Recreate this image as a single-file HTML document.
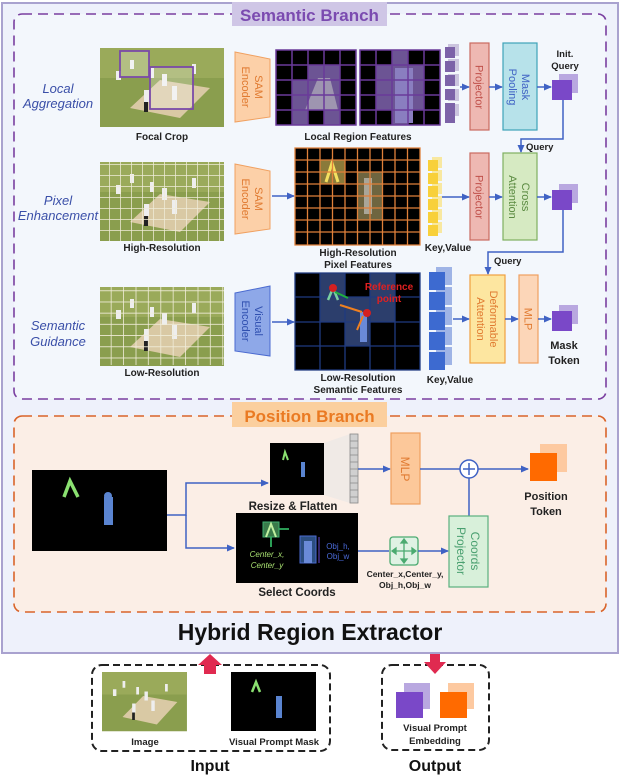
<!DOCTYPE html>
<html><head><meta charset="utf-8"><style>
html,body{margin:0;padding:0;background:#fff}
svg{display:block;font-family:"Liberation Sans",sans-serif}
</style></head><body>
<svg width="620" height="780" viewBox="0 0 620 780" xmlns="http://www.w3.org/2000/svg">
<defs>
<marker id="ab" markerWidth="8" markerHeight="8" refX="7" refY="4" orient="auto" markerUnits="userSpaceOnUse"><path d="M0,0.5 L8,4 L0,7.5 Z" fill="#3f62c4"/></marker>
<pattern id="g1" width="11" height="11" patternUnits="userSpaceOnUse"><path d="M11 0 V11 H0" fill="none" stroke="#f0ecd8" stroke-width="1.5"/></pattern>
<pattern id="g2" width="12.4" height="11.2" patternUnits="userSpaceOnUse"><path d="M12.4 0 V11.2 H0" fill="none" stroke="#f0ecd8" stroke-width="1.6"/></pattern>
<g id="field">
<rect width="124" height="79" fill="#8a9e4e"/>
<rect y="0" width="124" height="30" fill="#9aaa5a"/>
<polygon points="30,60 80,70 110,40 60,32" fill="#d9c9a4"/>
<g fill="#eeeeee"><rect x="16" y="23" width="5" height="9"/><rect x="30" y="12" width="4" height="9"/><rect x="50" y="20" width="4" height="10"/><rect x="62" y="26" width="5" height="12"/><rect x="72" y="38" width="5" height="14"/><rect x="92" y="16" width="4" height="10"/><rect x="44" y="42" width="5" height="12"/></g>
<rect x="44" y="54" width="4" height="10" fill="#222"/>
</g>
</defs>

<rect x="2" y="3" width="616" height="650" fill="#eef1fb" stroke="#a9a2cf" stroke-width="2"/>

<rect x="14" y="14" width="592" height="385" rx="8" fill="#f3f7fc" stroke="#7a3fa0" stroke-width="1.6" stroke-dasharray="10,6"/>
<rect x="232" y="2" width="155" height="24" fill="#cfc6e6"/>
<text x="309.5" y="21" text-anchor="middle" font-size="17" font-weight="bold" fill="#7b4bb0">Semantic Branch</text>

<g font-style="italic" font-size="13" fill="#3a4fa8" text-anchor="middle">
<text x="58" y="93">Local</text><text x="58" y="108">Aggregation</text>
<text x="58" y="205">Pixel</text><text x="58" y="220">Enhancement</text>
<text x="58" y="330">Semantic</text><text x="58" y="346">Guidance</text>
</g>

<!-- row1 -->
<use href="#field" x="100" y="48"/>
<rect x="120" y="51" width="29" height="26" fill="rgba(255,255,255,0.25)" stroke="#7a4aa8" stroke-width="1.8"/>
<rect x="150" y="67" width="43" height="42" fill="rgba(255,255,255,0.25)" stroke="#7a4aa8" stroke-width="1.8"/>
<text x="162" y="140" text-anchor="middle" font-size="10" font-weight="bold" fill="#222">Focal Crop</text>
<polygon points="235,52 270,59 270,117 235,122" fill="#fcd0a8" stroke="#f0a060"/>
<text transform="translate(255,87) rotate(90)" text-anchor="middle" font-size="11" fill="#e07a30">SAM</text>
<text transform="translate(242,87) rotate(90)" text-anchor="middle" font-size="11" fill="#e07a30">Encoder</text>
<g>
<rect x="276" y="50" width="80" height="75" fill="#000"/>
<g fill="#6c5494"><rect x="308" y="65" width="32" height="15"/><rect x="292" y="80" width="48" height="30"/><rect x="292" y="110" width="16" height="15"/><rect x="324" y="110" width="16" height="15"/></g>
<path d="M305,110 L318,78 L330,78 L338,110" fill="#9e95b0"/>
<path d="M276 50 h80 v75 h-80z M292 50v75 M308 50v75 M324 50v75 M340 50v75 M276 65h80 M276 80h80 M276 95h80 M276 110h80" fill="none" stroke="#6a3a9a" stroke-width="1.5"/>
<rect x="360" y="50" width="80" height="75" fill="#000"/>
<g fill="#6c5494"><rect x="392" y="50" width="16" height="75"/><rect x="376" y="65" width="48" height="45"/></g>
<rect x="395" y="68" width="18" height="55" fill="#8a7ec0"/>
<path d="M360 50 h80 v75 h-80z M376 50v75 M392 50v75 M408 50v75 M424 50v75 M360 65h80 M360 80h80 M360 95h80 M360 110h80" fill="none" stroke="#6a3a9a" stroke-width="1.5"/>
</g>
<text x="358" y="140" text-anchor="middle" font-size="10" font-weight="bold" fill="#222">Local Region Features</text>
<g fill="#cbc4de"><rect x="448" y="44" width="11" height="12"/><rect x="448" y="59" width="11" height="12"/><rect x="448" y="74" width="11" height="12"/><rect x="448" y="89" width="11" height="12"/><rect x="448" y="104" width="11" height="12"/></g>
<g fill="#7c62a8"><rect x="445" y="47" width="10" height="11"/><rect x="445" y="61" width="10" height="11"/><rect x="445" y="75" width="10" height="11"/><rect x="445" y="89" width="10" height="11"/><rect x="445" y="103" width="10" height="11"/><rect x="445" y="113" width="10" height="10"/></g>
<line x1="460" y1="87" x2="469" y2="87" stroke="#3f62c4" stroke-width="1.5" marker-end="url(#ab)"/>
<rect x="470" y="43" width="19" height="87" fill="#eeb8b2" stroke="#c96a60" stroke-width="1.2"/>
<text transform="translate(475.5,87) rotate(90)" text-anchor="middle" font-size="11" fill="#c0504a">Projector</text>
<line x1="489" y1="87" x2="502" y2="87" stroke="#3f62c4" stroke-width="1.5" marker-end="url(#ab)"/>
<rect x="503" y="43" width="34" height="87" fill="#b7e2ea" stroke="#3fa3b8" stroke-width="1.2"/>
<text transform="translate(522,87) rotate(90)" text-anchor="middle" font-size="11" fill="#3f62c4">Mask</text>
<text transform="translate(509,87) rotate(90)" text-anchor="middle" font-size="11" fill="#3f62c4">Pooling</text>
<line x1="537" y1="87" x2="551" y2="87" stroke="#3f62c4" stroke-width="1.5" marker-end="url(#ab)"/>
<text x="565" y="57" text-anchor="middle" font-size="9.5" font-weight="bold" fill="#222">Init.</text>
<text x="565" y="69" text-anchor="middle" font-size="9.5" font-weight="bold" fill="#222">Query</text>
<rect x="559" y="74" width="19" height="19" fill="#b9a8e0"/>
<rect x="552" y="80" width="20" height="20" fill="#7a48c8"/>
<polyline points="563,100 563,139 521,139 521,152" fill="none" stroke="#3f62c4" stroke-width="1.5" marker-end="url(#ab)"/>
<text x="526" y="150" font-size="9.5" font-weight="bold" fill="#222">Query</text>

<!-- row2 -->
<use href="#field" x="100" y="162"/>
<rect x="100" y="162" width="124" height="79" fill="url(#g1)"/>
<text x="162" y="251" text-anchor="middle" font-size="10" font-weight="bold" fill="#222">High-Resolution</text>
<polygon points="235,164 270,171 270,229 235,234" fill="#fcd0a8" stroke="#f0a060"/>
<text transform="translate(255,199) rotate(90)" text-anchor="middle" font-size="11" fill="#e07a30">SAM</text>
<text transform="translate(242,199) rotate(90)" text-anchor="middle" font-size="11" fill="#e07a30">Encoder</text>
<line x1="272" y1="196" x2="294" y2="196" stroke="#3f62c4" stroke-width="1.5" marker-end="url(#ab)"/>
<rect x="295" y="148" width="125" height="97" fill="#000"/>
<rect x="320" y="160" width="25" height="24" fill="#8a7a3a"/>
<rect x="357" y="172" width="25" height="48" fill="#6e6540"/>
<path d="M326,182 L332,163 L338,182" stroke="#f4e060" stroke-width="3" fill="none"/>
<rect x="364" y="178" width="8" height="36" fill="#aaa698"/>
<path d="M295 148h125v97h-125z M307.5 148v97 M320 148v97 M332.5 148v97 M345 148v97 M357.5 148v97 M370 148v97 M382.5 148v97 M395 148v97 M407.5 148v97 M295 160h125 M295 172h125 M295 184h125 M295 196h125 M295 208h125 M295 220h125 M295 232h125" fill="none" stroke="#e0803a" stroke-width="1.3"/>
<text x="358" y="256" text-anchor="middle" font-size="10" font-weight="bold" fill="#222">High-Resolution</text>
<text x="358" y="268" text-anchor="middle" font-size="10" font-weight="bold" fill="#222">Pixel Features</text>
<g fill="#f8e8a0"><rect x="432" y="157" width="10" height="11"/><rect x="432" y="170" width="10" height="11"/><rect x="432" y="183" width="10" height="11"/><rect x="432" y="196" width="10" height="11"/><rect x="432" y="209" width="10" height="11"/><rect x="432" y="222" width="10" height="11"/></g>
<g fill="#f8d03a"><rect x="428" y="160" width="10" height="11"/><rect x="428" y="173" width="10" height="11"/><rect x="428" y="186" width="10" height="11"/><rect x="428" y="199" width="10" height="11"/><rect x="428" y="212" width="10" height="11"/><rect x="428" y="225" width="10" height="11"/></g>
<text x="448" y="251" text-anchor="middle" font-size="10" font-weight="bold" fill="#222">Key,Value</text>
<line x1="442" y1="197" x2="469" y2="197" stroke="#3f62c4" stroke-width="1.5" marker-end="url(#ab)"/>
<rect x="470" y="153" width="19" height="87" fill="#eeb8b2" stroke="#c96a60" stroke-width="1.2"/>
<text transform="translate(475.5,197) rotate(90)" text-anchor="middle" font-size="11" fill="#c0504a">Projector</text>
<line x1="489" y1="197" x2="502" y2="197" stroke="#3f62c4" stroke-width="1.5" marker-end="url(#ab)"/>
<rect x="503" y="153" width="34" height="87" fill="#d6eac2" stroke="#7fb060" stroke-width="1.2"/>
<text transform="translate(522,197) rotate(90)" text-anchor="middle" font-size="11" fill="#5a8a40">Cross</text>
<text transform="translate(509,197) rotate(90)" text-anchor="middle" font-size="11" fill="#5a8a40">Attention</text>
<line x1="537" y1="197" x2="551" y2="197" stroke="#3f62c4" stroke-width="1.5" marker-end="url(#ab)"/>
<rect x="559" y="184" width="19" height="19" fill="#b9a8e0"/>
<rect x="552" y="190" width="20" height="20" fill="#7a48c8"/>
<polyline points="563,210 563,252 488,252 488,274" fill="none" stroke="#3f62c4" stroke-width="1.5" marker-end="url(#ab)"/>
<text x="494" y="264" font-size="9.5" font-weight="bold" fill="#222">Query</text>

<!-- row3 -->
<use href="#field" x="100" y="287"/>
<rect x="100" y="287" width="124" height="78" fill="url(#g2)"/>
<text x="162" y="376" text-anchor="middle" font-size="10" font-weight="bold" fill="#222">Low-Resolution</text>
<polygon points="235,293 270,286 270,356 235,351" fill="#8ea8e8" stroke="#4a6ad0"/>
<text transform="translate(255,321) rotate(90)" text-anchor="middle" font-size="11" fill="#3050b0">Visual</text>
<text transform="translate(242,321) rotate(90)" text-anchor="middle" font-size="11" fill="#3050b0">Encoder</text>
<line x1="272" y1="322" x2="294" y2="322" stroke="#3f62c4" stroke-width="1.5" marker-end="url(#ab)"/>
<rect x="295" y="273" width="125" height="97" fill="#000"/>
<g fill="#2c3e6c"><rect x="320" y="273" width="25" height="24"/><rect x="370" y="273" width="25" height="24"/><rect x="320" y="297" width="75" height="25"/><rect x="345" y="322" width="25" height="24"/></g>
<path d="M295 273h125v97h-125z M320 273v97 M345 273v97 M370 273v97 M395 273v97 M295 297h125 M295 322h125 M295 346h125" fill="none" stroke="#1f3a80" stroke-width="1.3"/>
<path d="M328,300 L333,288 L338,300" stroke="#7ad0a0" stroke-width="2.5" fill="none"/>
<rect x="360" y="312" width="7" height="30" fill="#6a8ad8"/>
<circle cx="333" cy="288" r="4" fill="#d42020"/><circle cx="367" cy="313" r="4" fill="#d42020"/>
<line x1="335" y1="292" x2="348" y2="298" stroke="#20b040" stroke-width="2"/>
<line x1="362" y1="312" x2="340" y2="305" stroke="#f08020" stroke-width="2"/>
<line x1="363" y1="316" x2="357" y2="330" stroke="#f08020" stroke-width="2"/>
<text x="389" y="290" text-anchor="middle" font-size="10" font-weight="bold" fill="#e02020">Reference</text>
<text x="389" y="302" text-anchor="middle" font-size="10" font-weight="bold" fill="#e02020">point</text>
<text x="358" y="381" text-anchor="middle" font-size="10" font-weight="bold" fill="#222">Low-Resolution</text>
<text x="358" y="393" text-anchor="middle" font-size="10" font-weight="bold" fill="#222">Semantic Features</text>
<g fill="#9fb4e6"><rect x="436" y="267" width="16" height="18"/><rect x="436" y="287" width="16" height="18"/><rect x="436" y="307" width="16" height="18"/><rect x="436" y="327" width="16" height="18"/><rect x="436" y="347" width="16" height="18"/></g>
<g fill="#3d6ad0"><rect x="429" y="272" width="16" height="18"/><rect x="429" y="292" width="16" height="18"/><rect x="429" y="312" width="16" height="18"/><rect x="429" y="332" width="16" height="18"/><rect x="429" y="352" width="16" height="18"/></g>
<text x="450" y="383" text-anchor="middle" font-size="10" font-weight="bold" fill="#222">Key,Value</text>
<line x1="453" y1="319" x2="469" y2="319" stroke="#3f62c4" stroke-width="1.5" marker-end="url(#ab)"/>
<rect x="470" y="275" width="35" height="88" fill="#fde6a0" stroke="#f0a040" stroke-width="1.2"/>
<text transform="translate(490,319) rotate(90)" text-anchor="middle" font-size="11" fill="#e07a30">Deformable</text>
<text transform="translate(477,319) rotate(90)" text-anchor="middle" font-size="11" fill="#e07a30">Attention</text>
<line x1="505" y1="319" x2="518" y2="319" stroke="#3f62c4" stroke-width="1.5" marker-end="url(#ab)"/>
<rect x="519" y="275" width="19" height="88" fill="#fcd6b8" stroke="#f0a060" stroke-width="1.2"/>
<text transform="translate(524.5,319) rotate(90)" text-anchor="middle" font-size="11" fill="#e07a30">MLP</text>
<line x1="538" y1="319" x2="551" y2="319" stroke="#3f62c4" stroke-width="1.5" marker-end="url(#ab)"/>
<rect x="559" y="305" width="19" height="19" fill="#b9a8e0"/>
<rect x="552" y="311" width="20" height="20" fill="#7a48c8"/>
<text x="564" y="349" text-anchor="middle" font-size="11" font-weight="bold" fill="#222">Mask</text>
<text x="564" y="364" text-anchor="middle" font-size="11" font-weight="bold" fill="#222">Token</text>

<!-- position branch -->
<rect x="14" y="416" width="592" height="196" rx="8" fill="#fbeee6" stroke="#d9642a" stroke-width="1.6" stroke-dasharray="10,6"/>
<rect x="232" y="402" width="155" height="25" fill="#fbcf9e"/>
<text x="309.5" y="422" text-anchor="middle" font-size="17" font-weight="bold" fill="#ea7a22">Position Branch</text>
<rect x="32" y="470" width="135" height="81" fill="#000"/>
<path d="M64,497 L70,481 L78,497" stroke="#8ae070" stroke-width="3.5" fill="none"/>
<rect x="104" y="497" width="9" height="28" fill="#5a84d0"/>
<circle cx="108" cy="496" r="4" fill="#5a84d0"/>
<polyline points="167,515 186,515 186,483 268,483" fill="none" stroke="#3f62c4" stroke-width="1.5" marker-end="url(#ab)"/>
<polyline points="186,515 186,548 234,548" fill="none" stroke="#3f62c4" stroke-width="1.5" marker-end="url(#ab)"/>
<rect x="270" y="443" width="54" height="52" fill="#000"/>
<path d="M283,460 L285,452 L288,460" stroke="#8ae070" stroke-width="2" fill="none"/>
<rect x="301" y="462" width="4" height="15" fill="#5a84d0"/>
<polygon points="324,443 350,434 350,503 324,495" fill="#e6e6e6" opacity="0.5"/>
<rect x="350" y="434" width="8" height="69" fill="#d0d0d0" stroke="#888" stroke-width="0.8"/>
<path d="M350 441h8 M350 448h8 M350 455h8 M350 462h8 M350 469h8 M350 476h8 M350 483h8 M350 490h8 M350 497h8" stroke="#888" stroke-width="0.8"/>
<text x="293" y="510" text-anchor="middle" font-size="11.5" font-weight="bold" fill="#222">Resize &amp; Flatten</text>
<line x1="358" y1="469" x2="390" y2="469" stroke="#3f62c4" stroke-width="1.5" marker-end="url(#ab)"/>
<rect x="391" y="433" width="29" height="71" fill="#fcc89a" stroke="#f0a060" stroke-width="1.2"/>
<text transform="translate(401,469) rotate(90)" text-anchor="middle" font-size="12" fill="#e07a30">MLP</text>
<line x1="420" y1="469" x2="460" y2="469" stroke="#3f62c4" stroke-width="1.5"/>
<circle cx="469" cy="469" r="9" fill="#fff" stroke="#3f62c4" stroke-width="1.5"/>
<path d="M463 469h12 M469 463v12" stroke="#3f62c4" stroke-width="1.5"/>
<line x1="478" y1="469" x2="528" y2="469" stroke="#3f62c4" stroke-width="1.5" marker-end="url(#ab)"/>
<line x1="469" y1="478" x2="469" y2="516" stroke="#3f62c4" stroke-width="1.5"/>
<rect x="540" y="444" width="27" height="28" fill="#fdc9a0"/>
<rect x="530" y="453" width="27" height="28" fill="#ff6a00"/>
<text x="546" y="500" text-anchor="middle" font-size="11" font-weight="bold" fill="#222">Position</text>
<text x="546" y="515" text-anchor="middle" font-size="11" font-weight="bold" fill="#222">Token</text>
<rect x="236" y="513" width="122" height="70" fill="#000"/>
<rect x="263" y="522" width="16" height="15" fill="#3a7a4a" stroke="#40b070"/>
<path d="M266,537 L271,524 L276,537" stroke="#c0f0a0" stroke-width="2" fill="none"/>
<path d="M279 529h10 M271 537v10" stroke="#30b060" stroke-width="1.8"/>
<text x="267" y="557" text-anchor="middle" font-size="8" font-style="italic" fill="#a8e070">Center_x,</text>
<text x="267" y="568" text-anchor="middle" font-size="8" font-style="italic" fill="#a8e070">Center_y</text>
<rect x="300" y="536" width="16" height="27" fill="#2c4e80" stroke="#4a6ad0"/>
<rect x="304" y="541" width="8" height="22" fill="#6a8ad8"/>
<line x1="319" y1="537" x2="319" y2="563" stroke="#6a4ad0" stroke-width="1"/>
<text x="338" y="549" text-anchor="middle" font-size="8" fill="#4a6ad8">Obj_h,</text>
<text x="338" y="559" text-anchor="middle" font-size="8" fill="#4a6ad8">Obj_w</text>
<text x="297" y="596" text-anchor="middle" font-size="11.5" font-weight="bold" fill="#222">Select Coords</text>
<line x1="358" y1="551" x2="389" y2="551" stroke="#3f62c4" stroke-width="1.5"/>
<rect x="390" y="537" width="28" height="28" rx="3" fill="#dff2e4" stroke="#4aaa70" stroke-width="1.3"/>
<path d="M395 551h18 M404 542v18 M392 551l4-3v6z M416 551l-4-3v6z M404 539l-3 4h6z M404 563l-3-4h6z" stroke="#4aaa70" stroke-width="1.3" fill="#4aaa70"/>
<line x1="418" y1="551" x2="448" y2="551" stroke="#3f62c4" stroke-width="1.5" marker-end="url(#ab)"/>
<text x="405" y="577" text-anchor="middle" font-size="8.5" font-weight="bold" fill="#222">Center_x,Center_y,</text>
<text x="405" y="588" text-anchor="middle" font-size="8.5" font-weight="bold" fill="#222">Obj_h,Obj_w</text>
<rect x="449" y="516" width="39" height="71" fill="#d8f0da" stroke="#5bb07e" stroke-width="1.2"/>
<text transform="translate(471,551) rotate(90)" text-anchor="middle" font-size="12" fill="#4aa070">Coords</text>
<text transform="translate(457,551) rotate(90)" text-anchor="middle" font-size="12" fill="#4aa070">Projector</text>

<text x="310" y="640" text-anchor="middle" font-size="23" font-weight="bold" fill="#111">Hybrid Region Extractor</text>

<rect x="92" y="665" width="238" height="86" rx="10" fill="#fff" stroke="#222" stroke-width="2" stroke-dasharray="7,4"/>
<rect x="382" y="665" width="107" height="85" rx="10" fill="#fff" stroke="#222" stroke-width="2" stroke-dasharray="7,4"/>
<polygon points="204,674 204,665 198,665 210,654 222,665 216,665 216,674" fill="#e02a50"/>
<polygon points="430,654 440,654 440,662 446,662 435,674 424,662 430,662" fill="#e02a50"/>
<g transform="translate(102,672) scale(0.685,0.75)"><use href="#field"/></g>
<text x="145" y="745" text-anchor="middle" font-size="9.5" font-weight="bold" fill="#222">Image</text>
<rect x="231" y="672" width="85" height="59" fill="#000"/>
<path d="M252,692 L256,682 L260,692" stroke="#8ae070" stroke-width="2.5" fill="none"/>
<rect x="276" y="696" width="6" height="22" fill="#5a84d0"/>
<text x="274" y="745" text-anchor="middle" font-size="9.5" font-weight="bold" fill="#222">Visual Prompt Mask</text>
<rect x="404" y="683" width="26" height="26" fill="#b9a8e0"/>
<rect x="396" y="692" width="27" height="26" fill="#7a48c8"/>
<rect x="448" y="683" width="26" height="26" fill="#fdc9a0"/>
<rect x="440" y="692" width="27" height="26" fill="#ff6a00"/>
<text x="435" y="731" text-anchor="middle" font-size="9.5" font-weight="bold" fill="#222">Visual Prompt</text>
<text x="435" y="744" text-anchor="middle" font-size="9.5" font-weight="bold" fill="#222">Embedding</text>
<text x="210" y="771" text-anchor="middle" font-size="16" font-weight="bold" fill="#111">Input</text>
<text x="435" y="771" text-anchor="middle" font-size="16" font-weight="bold" fill="#111">Output</text>
</svg>
</body></html>
